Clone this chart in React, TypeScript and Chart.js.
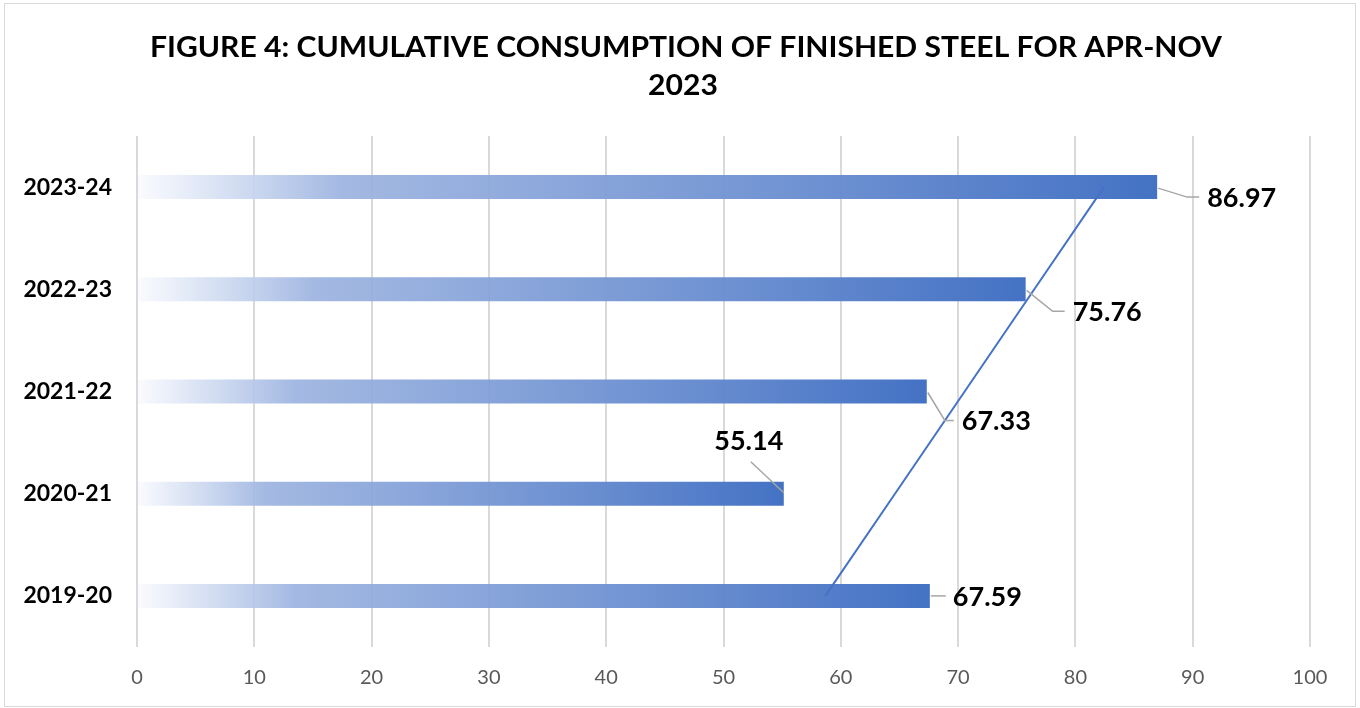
import React, { useEffect, useRef } from "react";
import { Chart, registerables } from "chart.js";

Chart.register(...registerables);

// ---------- data ----------
const TITLE_LINES = [
  "FIGURE 4: CUMULATIVE CONSUMPTION OF FINISHED STEEL FOR APR-NOV",
  "2023",
];
const CATEGORIES = ["2023-24", "2022-23", "2021-22", "2020-21", "2019-20"];
const VALUES = [86.97, 75.76, 67.33, 55.14, 67.59];
const X_MIN = 0;
const X_MAX = 100;
const X_STEP = 10;

// linear trendline (least squares over the categories)
const N = VALUES.length;
const IDX = VALUES.map((_, i) => i);
const MEAN_I = IDX.reduce((s, v) => s + v, 0) / N;
const MEAN_V = VALUES.reduce((s, v) => s + v, 0) / N;
const SLOPE =
  IDX.reduce((s, i) => s + (i - MEAN_I) * (VALUES[i] - MEAN_V), 0) /
  IDX.reduce((s, i) => s + (i - MEAN_I) * (i - MEAN_I), 0);
const TREND = IDX.map((i) => MEAN_V + SLOPE * (i - MEAN_I));

// ---------- styles ----------
const BLUE = "#4472C4";
const GRID = "#d9d9d9";
const FONT = "Lato, 'Open Sans', sans-serif";

// label placement relative to bar end (pixels), with leader-line points
const LABEL_LAYOUT = [
  { dx: 50, dy: 10, align: "left", leader: [[1, 1], [30, 10], [42, 10]] },
  { dx: 47, dy: 22, align: "left", leader: [[1, 1], [27, 22], [39, 22]] },
  { dx: 35, dy: 29, align: "left", leader: [[1, 1], [18, 29], [27, 29]] },
  { dx: -35, dy: -53, align: "center", leader: [[0, -1], [-33, -32]] },
  { dx: 23, dy: 0, align: "left", leader: [[1, 0], [16, 0]] },
];

const frameAndTitle = {
  id: "frameAndTitle",
  beforeDraw(chart: any) {
    const ctx = chart.ctx;
    ctx.save();
    ctx.fillStyle = "#ffffff";
    ctx.fillRect(0, 0, chart.width, chart.height);
    ctx.strokeStyle = GRID;
    ctx.lineWidth = 1;
    ctx.strokeRect(4.5, 3.5, 1351, 703);
    ctx.restore();
  },
  afterDraw(chart: any) {
    const ctx = chart.ctx;
    ctx.save();
    ctx.fillStyle = "#000000";
    ctx.textAlign = "center";
    ctx.textBaseline = "alphabetic";
    ctx.font = `bold 28px ${FONT}`;
    const w = ctx.measureText(TITLE_LINES[0]).width;
    const sx = 1072 / w;
    ctx.save();
    ctx.translate(686, 57);
    ctx.scale(sx, 1);
    ctx.fillText(TITLE_LINES[0], 0, 0);
    ctx.restore();
    ctx.save();
    ctx.translate(683, 95);
    ctx.scale(sx, 1);
    ctx.fillText(TITLE_LINES[1], 0, 0);
    ctx.restore();
    ctx.restore();
  },
};

const dataLabels = {
  id: "dataLabels",
  afterDatasetsDraw(chart: any) {
    const ctx = chart.ctx;
    const meta = chart.getDatasetMeta(0);
    const fontSize = 27;
    ctx.save();
    ctx.font = `bold ${fontSize}px ${FONT}`;
    ctx.textBaseline = "alphabetic";
    meta.data.forEach((bar: any, i: number) => {
      const lay = LABEL_LAYOUT[i];
      const xe = bar.x;
      const yc = bar.y;
      ctx.strokeStyle = "#a6a6a6";
      ctx.lineWidth = 1.5;
      ctx.beginPath();
      lay.leader.forEach((p: number[], k: number) => {
        if (k === 0) ctx.moveTo(xe + p[0], yc + p[1]);
        else ctx.lineTo(xe + p[0], yc + p[1]);
      });
      ctx.stroke();
      ctx.fillStyle = "#000000";
      ctx.textAlign = lay.align;
      ctx.fillText(
        VALUES[i].toFixed(2),
        xe + lay.dx,
        yc + lay.dy + fontSize * 0.36
      );
    });
    ctx.restore();
  },
};

function barGradient(c: any) {
  const chart = c.chart;
  const xs = chart.scales && chart.scales.x;
  if (!xs || c.type !== "data") return BLUE;
  const x0 = xs.getPixelForValue(0);
  const x1 = xs.getPixelForValue(c.raw);
  if (!isFinite(x0) || !isFinite(x1) || x1 <= x0) return BLUE;
  const g = chart.ctx.createLinearGradient(x0, 0, x1, 0);
  g.addColorStop(0, "rgba(250,251,254,0.92)");
  g.addColorStop(0.1, "rgba(205,217,240,0.92)");
  g.addColorStop(0.2, "rgba(156,179,224,0.92)");
  g.addColorStop(1, "rgba(68,114,196,1)");
  return g;
}

export default function App() {
  const ref = useRef<HTMLCanvasElement | null>(null);
  useEffect(() => {
    if (!ref.current) return;
    const chart = new Chart(ref.current, {
      type: "bar",
      data: {
        labels: CATEGORIES,
        datasets: [
          {
            type: "bar",
            data: VALUES,
            backgroundColor: barGradient,
            borderWidth: 0,
            barPercentage: 0.235,
            categoryPercentage: 1,
            order: 1,
          } as any,
          {
            type: "line",
            data: TREND,
            borderColor: BLUE,
            borderWidth: 2,
            pointRadius: 0,
            fill: false,
            order: 0,
          } as any,
        ],
      },
      options: {
        indexAxis: "y",
        responsive: false,
        animation: false,
        layout: { padding: { top: 136, right: 50, bottom: 0, left: 0 } },
        plugins: {
          legend: { display: false },
          title: { display: false },
          tooltip: { enabled: false },
        },
        scales: {
          x: {
            min: X_MIN,
            max: X_MAX,
            ticks: {
              stepSize: X_STEP,
              color: "#595959",
              font: { family: FONT, size: 20 },
              padding: 19,
              maxRotation: 0,
            },
            grid: { color: GRID, lineWidth: 2, drawTicks: false, tickLength: 0 },
            border: { display: false },
            afterFit(s: any) {
              s.height = 61;
            },
          },
          y: {
            ticks: {
              color: "#000000",
              font: { family: FONT, size: 23, weight: "bold" },
              padding: 25,
            },
            grid: { display: false, drawTicks: false, tickLength: 0 },
            border: { display: false },
            afterFit(s: any) {
              s.width = 137;
            },
          },
        },
      } as any,
      plugins: [frameAndTitle, dataLabels],
    });
    return () => chart.destroy();
  }, []);
  return (
    <div style={{ position: "absolute", left: 0, top: 0, width: 1360, height: 708 }}>
      <canvas ref={ref} width={1360} height={708} style={{ display: "block" }} />
    </div>
  );
}
